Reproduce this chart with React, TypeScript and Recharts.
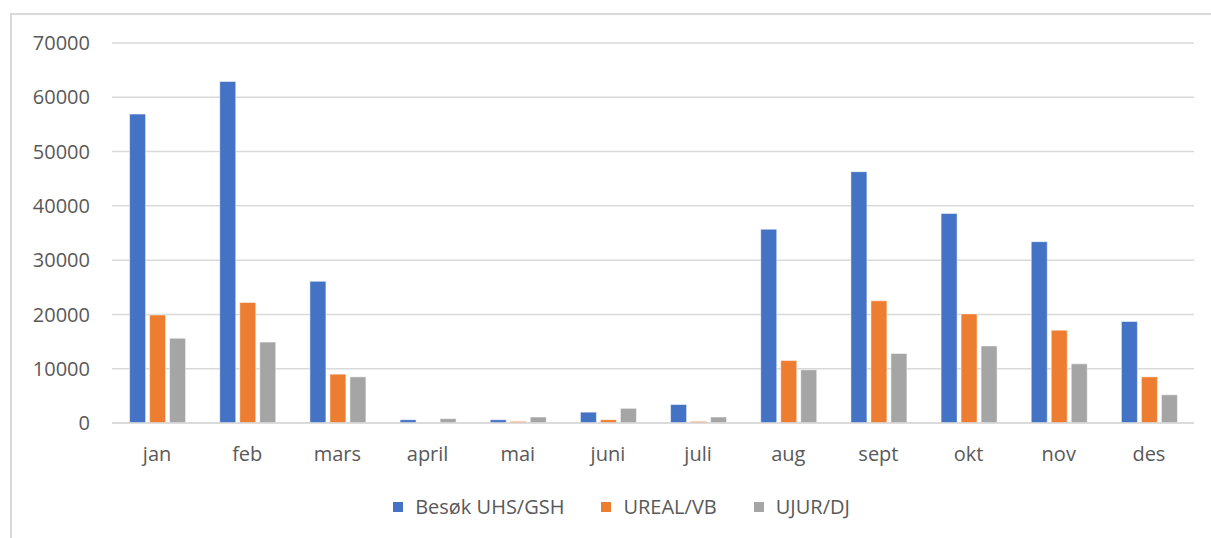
import React from "react";
import { BarChart, Bar, XAxis, YAxis, CartesianGrid } from "recharts";

const months = ["jan", "feb", "mars", "april", "mai", "juni", "juli", "aug", "sept", "okt", "nov", "des"];
const besok = [56900, 62900, 26100, 600, 600, 2000, 3400, 35700, 46300, 38600, 33400, 18700];
const ureal = [19900, 22200, 9000, 0, 300, 600, 300, 11500, 22500, 20100, 17100, 8500];
const ujur = [15600, 14900, 8500, 800, 1100, 2700, 1100, 9800, 12800, 14200, 10900, 5200];
const yTicks = [0, 10000, 20000, 30000, 40000, 50000, 60000, 70000];

const series = [
  { key: "besok", name: "Besøk UHS/GSH", color: "#4472C4" },
  { key: "ureal", name: "UREAL/VB", color: "#ED7D31" },
  { key: "ujur", name: "UJUR/DJ", color: "#A5A5A5" },
];

const data = months.map((m, i) => ({ month: m, besok: besok[i], ureal: ureal[i], ujur: ujur[i] }));

const FONT = "'Open Sans', 'Noto Sans', sans-serif";
const TEXT = "#595959";

function LegendBox() {
  return (
    <div style={{ display: "flex", justifyContent: "center", alignItems: "center", gap: 37, fontFamily: FONT, fontSize: 20, color: TEXT }}>
      {series.map((s) => (
        <div key={s.key} style={{ display: "flex", alignItems: "center", gap: 12 }}>
          <span style={{ width: 10, height: 10, background: s.color, display: "inline-block" }} />
          <span>{s.name}</span>
        </div>
      ))}
    </div>
  );
}

export default function App() {
  return (
    <div style={{ position: "absolute", left: 0, top: 0, width: 1211, height: 538, background: "#fff", overflow: "hidden" }}>
      <div
        style={{
          position: "absolute",
          left: 10,
          top: 13,
          width: 1240,
          height: 600,
          borderLeft: "2px solid #d9d9d9",
          borderTop: "2px solid #d9d9d9",
        }}
      />
      <div style={{ position: "absolute", left: 0, top: 0 }}>
        <BarChart
          width={1211}
          height={538}
          data={data}
          margin={{ top: 43, right: 17, bottom: 85, left: 0 }}
          barGap={4}
          barCategoryGap="19.5%"
        >
          <CartesianGrid vertical={false} stroke="#d9d9d9" strokeWidth={1.5} />
          <XAxis
            dataKey="month"
            height={30}
            axisLine={{ stroke: "#d9d9d9", strokeWidth: 1.5 }}
            tickLine={false}
            tickSize={0}
            tickMargin={24}
            tick={{ fill: TEXT, fontSize: 20, fontFamily: FONT }}
            interval={0}
          />
          <YAxis
            width={112}
            domain={[0, 70000]}
            ticks={yTicks}
            axisLine={false}
            tickLine={false}
            tickSize={0}
            tickMargin={22}
            tick={{ fill: TEXT, fontSize: 20, fontFamily: FONT }}
          />
          {series.map((s) => (
            <Bar
              key={s.key}
              dataKey={s.key}
              name={s.name}
              fill={s.color}
              stroke="#ffffff"
              strokeWidth={0.5}
              isAnimationActive={false}
            />
          ))}
        </BarChart>
      </div>
      <div style={{ position: "absolute", left: 0, top: 493, width: 1243 }}>
        <LegendBox />
      </div>
    </div>
  );
}
